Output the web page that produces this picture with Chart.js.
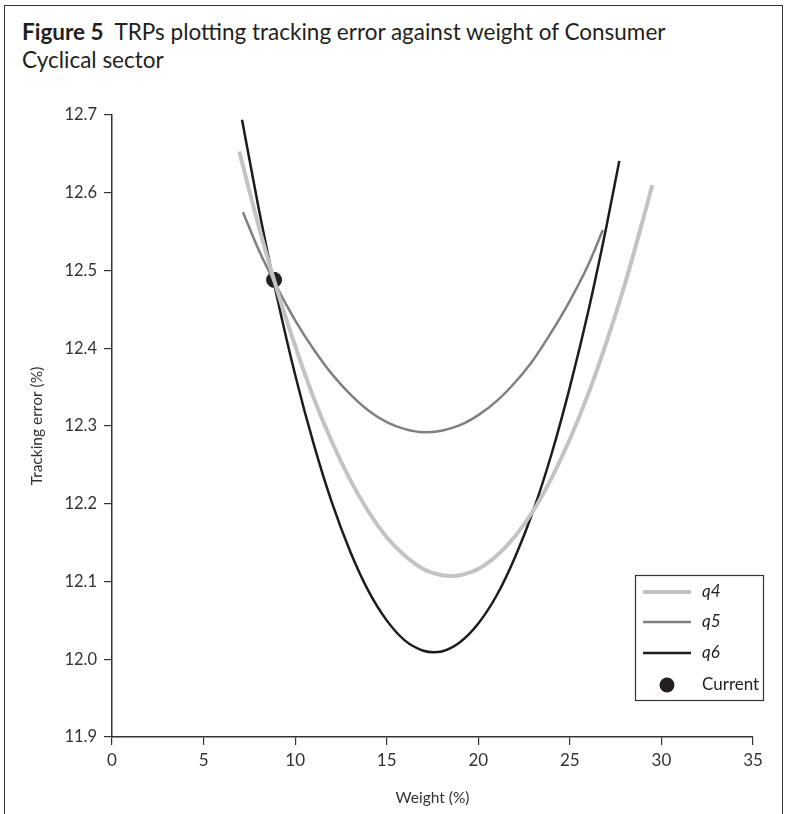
<!DOCTYPE html>
<html><head><meta charset="utf-8">
<script src="https://cdn.jsdelivr.net/npm/chart.js@4.4.1/dist/chart.umd.min.js"></script>
<style>
html,body{margin:0;padding:0;background:#fff;}
#wrap{position:relative;width:785px;height:814px;overflow:hidden;background:#fff;}
#frame{position:absolute;left:4px;top:5px;width:779px;height:830px;border:1.5px solid #333;box-sizing:border-box;}
#title{position:absolute;left:22px;top:18px;font-family:Lato,"Open Sans",sans-serif;font-size:22.5px;line-height:28px;color:#231f20;white-space:nowrap;}
#c{position:absolute;left:0;top:0;}
</style></head>
<body><div id="wrap"><div id="frame"></div><div id="title"><b>Figure 5</b>&nbsp; TRPs plotting tracking error against weight of Consumer<br>Cyclical sector</div><canvas id="c" width="785" height="814"></canvas></div>
<script>
const seriesNames = ['q4', 'q5', 'q6'];
const weightQ4 = [6.95, 8, 9, 10, 11, 12, 13, 14, 15, 16, 17, 18, 18.5, 19, 20, 21, 22, 23, 24, 25, 26, 27, 28, 29, 29.5];
const teQ4 = [12.653, 12.558, 12.476, 12.403, 12.337, 12.280, 12.231, 12.190, 12.157, 12.133, 12.116, 12.108, 12.107, 12.108, 12.116, 12.133, 12.158, 12.191, 12.233, 12.283, 12.341, 12.408, 12.482, 12.566, 12.610];
const weightQ5 = [7.15, 8, 9, 10, 11, 12, 13, 14, 15, 16, 17, 18, 19, 20, 21, 22, 23, 24, 25, 26, 26.8];
const teQ5 = [12.575, 12.527, 12.479, 12.436, 12.399, 12.367, 12.341, 12.320, 12.305, 12.296, 12.292, 12.294, 12.301, 12.314, 12.332, 12.356, 12.385, 12.421, 12.461, 12.507, 12.552];
const weightQ6 = [7.1, 8, 9, 10, 11, 12, 13, 14, 15, 16, 17, 17.55, 18, 19, 20, 21, 22, 23, 24, 25, 26, 27, 27.7];
const teQ6 = [12.694, 12.581, 12.467, 12.366, 12.278, 12.202, 12.139, 12.088, 12.050, 12.024, 12.011, 12.009, 12.010, 12.022, 12.046, 12.082, 12.131, 12.191, 12.264, 12.350, 12.447, 12.557, 12.641];
const currentWeight = [8.85];
const currentTE = [12.488];
const xTicks = [0, 5, 10, 15, 20, 25, 30, 35];
const yTicks = [11.9, 12.0, 12.1, 12.2, 12.3, 12.4, 12.5, 12.6, 12.7];

const pts = (xs, ys) => xs.map((x, i) => ({x: x, y: ys[i]}));
const FONT = 'Lato, "Open Sans", sans-serif';
const INK = '#333333';

const legendBox = {
  id: 'legendBox',
  afterDraw(chart) {
    const ctx = chart.ctx;
    const L = 635, T = 575, R = 763, B = 700;
    ctx.save();
    ctx.fillStyle = '#fff';
    ctx.fillRect(L, T, R - L, B - T);
    ctx.strokeStyle = INK;
    ctx.lineWidth = 1.2;
    ctx.strokeRect(L + 0.5, T + 0.5, R - L, B - T);
    const rows = [592, 622, 653, 685];
    chart.data.datasets.forEach((ds, i) => {
      const y = rows[i];
      if (ds.showLine) {
        ctx.strokeStyle = ds.borderColor;
        ctx.lineWidth = ds.borderWidth;
        ctx.beginPath(); ctx.moveTo(643, y); ctx.lineTo(691, y); ctx.stroke();
        ctx.font = 'italic 17px ' + FONT;
      } else {
        ctx.fillStyle = ds.backgroundColor;
        ctx.beginPath(); ctx.arc(667, y, 7.5, 0, Math.PI * 2); ctx.fill();
        ctx.font = '17px ' + FONT;
      }
      ctx.fillStyle = '#231f20';
      ctx.textBaseline = 'middle';
      ctx.textAlign = 'left';
      ctx.fillText(ds.label, 702, y);
    });
    ctx.restore();
  }
};

new Chart(document.getElementById('c'), {
  type: 'scatter',
  data: {
    datasets: [
      {label: seriesNames[0], data: pts(weightQ4, teQ4), showLine: true, borderColor: '#c3c3c3', borderWidth: 4, pointRadius: 0, tension: 0.4, cubicInterpolationMode: 'monotone'},
      {label: seriesNames[1], data: pts(weightQ5, teQ5), showLine: true, borderColor: '#808080', borderWidth: 2.5, pointRadius: 0, tension: 0.4, cubicInterpolationMode: 'monotone'},
      {label: seriesNames[2], data: pts(weightQ6, teQ6), showLine: true, borderColor: '#1c1c1c', borderWidth: 2.5, pointRadius: 0, tension: 0.4, cubicInterpolationMode: 'monotone'},
      {label: 'Current', data: pts(currentWeight, currentTE), showLine: false, backgroundColor: '#231f20', borderColor: '#231f20', pointRadius: 7.5, pointHoverRadius: 7.5}
    ]
  },
  options: {
    responsive: false,
    animation: false,
    events: [],
    layout: {padding: {left: 0, top: 115, right: 32, bottom: 0}},
    plugins: {legend: {display: false}, tooltip: {enabled: false}},
    scales: {
      x: {
        type: 'linear', min: 0, max: 35,
        afterBuildTicks: s => { s.ticks = xTicks.map(v => ({value: v})); },
        afterFit: s => { s.height = 77; },
        ticks: {color: INK, font: {family: FONT, size: 17}, padding: 5, callback: v => String(v)},
        grid: {display: true, drawOnChartArea: false, drawTicks: true, tickLength: 8, color: INK, lineWidth: 1.2},
        border: {display: true, color: INK, width: 1.5},
        title: {display: true, text: 'Weight (%)', color: INK, font: {family: FONT, size: 15.5}, padding: {top: 0, bottom: 7}}
      },
      y: {
        type: 'linear', min: 11.9, max: 12.7,
        afterBuildTicks: s => { s.ticks = yTicks.map(v => ({value: v})); },
        afterFit: s => { s.width = 112; },
        ticks: {color: INK, font: {family: FONT, size: 16.5}, padding: 7, callback: v => Number(v).toFixed(1)},
        grid: {display: true, drawOnChartArea: false, drawTicks: true, tickLength: 8, color: INK, lineWidth: 1.2},
        border: {display: true, color: INK, width: 1.5},
        title: {display: true, text: 'Tracking error (%)', color: INK, font: {family: FONT, size: 15.5}, padding: {top: 28, bottom: 0}}
      }
    }
  },
  plugins: [legendBox]
});
</script>
</body></html>
